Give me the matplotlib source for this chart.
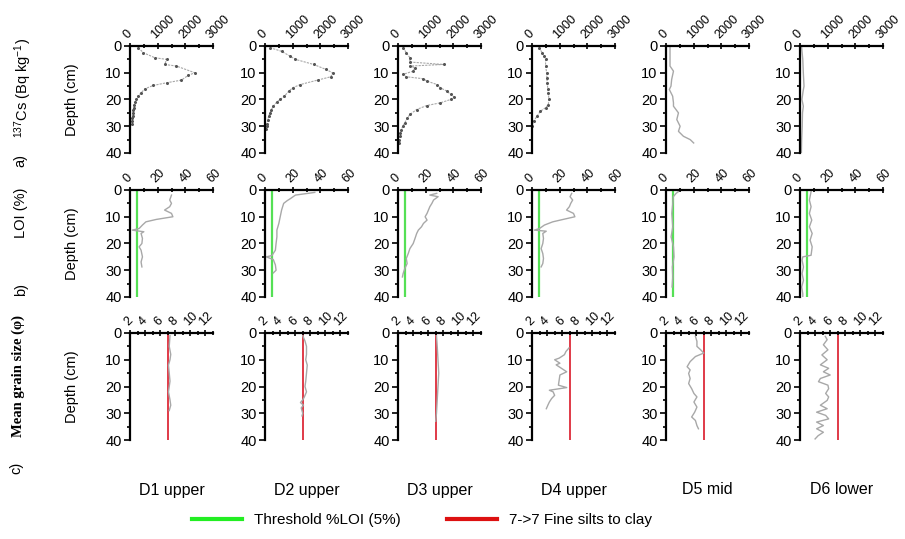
import numpy as np
import matplotlib
matplotlib.use('Agg')
import matplotlib.pyplot as plt
from matplotlib.lines import Line2D
from matplotlib.ticker import MultipleLocator

plt.rcParams['font.family'] = ['Liberation Sans', 'DejaVu Sans']
plt.rcParams['mathtext.default'] = 'regular'

cores = ['D1 upper', 'D2 upper', 'D3 upper', 'D4 upper', 'D5 mid', 'D6 lower']

# 137Cs activity (Bq/kg) against depth (cm)
cs_d1_depth = [0.6, 2.5, 4.4, 5, 6.9, 7.5, 10, 11, 12.75, 13.75, 14.75, 16, 17.5, 18.75, 20, 21, 22, 23, 24, 25, 26, 27, 28, 29]
cs_d1 = [300, 480, 900, 1320, 1260, 1680, 2340, 2100, 1860, 1320, 840, 540, 400, 300, 230, 180, 150, 130, 120, 110, 100, 90, 80, 60]
cs_d2_depth = [0.6, 2, 3.75, 5, 6.9, 8.75, 10, 11.5, 12.75, 14.4, 15.6, 17, 18.75, 20, 21, 22.5, 24, 25, 26, 27.5, 29, 30, 31]
cs_d2 = [180, 600, 900, 1100, 1760, 2200, 2440, 2380, 1900, 1280, 1000, 850, 700, 550, 420, 300, 220, 180, 140, 100, 80, 60, 50]
cs_d3_depth = [0.6, 2.5, 4.4, 6, 6.9, 7.5, 8.1, 9.4, 10.6, 11.5, 12.25, 13.1, 14.4, 15.6, 16.9, 18.1, 19, 20, 21.25, 22.25, 23.75, 25.6, 27, 28.75, 30, 31.25, 32.5, 33.75, 35, 36.25]
cs_d3 = [180, 300, 430, 430, 1650, 430, 610, 550, 180, 300, 920, 1040, 1410, 1530, 1770, 1900, 2020, 1900, 1530, 1040, 670, 430, 330, 245, 170, 120, 90, 60, 40, 20]
cs_d4_depth = [0.6, 2.5, 3.75, 5, 7.5, 10, 12, 13.75, 16, 17.5, 20, 21.9, 23.1, 24.4, 26.25, 28.1, 29.75]
cs_d4 = [245, 370, 430, 490, 490, 530, 540, 550, 570, 590, 610, 590, 490, 300, 180, 60, 0]
cs_d5_depth = [0.6, 7.5, 9.4, 12.5, 15, 16.25, 18.75, 21.25, 22.5, 25, 27.5, 30, 31.9, 33.75, 35, 36.25]
cs_d5 = [145, 145, 270, 205, 180, 120, 240, 270, 270, 450, 390, 510, 450, 630, 875, 1000]
cs_d6_depth = [0.6, 5, 10, 15, 17, 20, 22.5, 25, 30, 35, 40]
cs_d6 = [60, 100, 120, 145, 110, 70, 120, 90, 80, 60, 50]

# loss on ignition (%) against depth (cm)
loi_d1_depth = [1.9, 3.75, 5, 6.25, 7.5, 8.75, 10, 11, 11.9, 13.1, 14.4, 15, 15.3, 15.6, 16.25, 18.1, 20, 21.25, 22.5, 25, 26.9, 28.75]
loi_d1 = [30, 28.7, 30, 28.7, 25, 30, 31, 19, 11.5, 9, 6.6, 1.7, 5.5, 10, 8, 9, 8.6, 6.6, 8, 9, 8, 8.6]
loi_d2_depth = [0.9, 1.9, 3, 4, 5, 7.5, 10, 12.5, 15, 17.5, 20, 22.5, 24.5, 25, 26, 28, 30, 31]
loi_d2 = [36, 22, 19, 16, 13.5, 12, 11, 10, 8.6, 8.6, 8, 7.5, 5, 1, 6, 7.5, 8, 6]
loi_d3_depth = [1.25, 1.9, 2.5, 3.75, 5, 6.25, 7.5, 8.75, 10, 11.25, 12.5, 13.75, 15, 16.25, 18.1, 20, 21.9, 23.75, 25.6, 27.5, 29.4, 31.25, 32.5]
loi_d3 = [28, 23, 29, 25.7, 24.5, 23, 22, 21, 19.6, 21, 18.4, 17, 14.7, 13.5, 12.3, 11, 8.6, 7.4, 6, 6.6, 4.9, 3.7, 3.2]
loi_d4_depth = [1.25, 2.5, 3.75, 5, 6.25, 7.5, 8.75, 10, 11, 11.9, 13.1, 14.4, 15, 15.4, 16.25, 18.1, 20, 21.9, 23.75, 25.6, 27.5, 28.75]
loi_d4 = [28.7, 27.5, 29.4, 28, 27, 25, 30, 31, 22.5, 15, 9, 5.4, 1.7, 10.3, 7.8, 8.3, 7.8, 6.6, 7.8, 8.3, 7.8, 6.6]
loi_d5_depth = [0.6, 1.25, 2.5, 5, 8.75, 13.75, 17.5, 21.25, 25, 28.75, 32.5, 36.25]
loi_d5 = [9, 7.3, 5.3, 4.9, 4.2, 4.9, 3.7, 5.4, 5.8, 4.6, 4.9, 4.4]
loi_d6_depth = [0.6, 3.75, 6.25, 8.75, 11.25, 13.75, 16.25, 18.75, 21.25, 24.4, 25, 26.25, 28.75, 31.25, 33.75, 36.25, 38.75, 40]
loi_d6 = [8, 6.8, 8, 6.8, 8.5, 6.8, 8.8, 7.3, 8.8, 8, 2, 1.5, 2.5, 1.5, 2.5, 1.2, 2, 2]

# mean grain size (phi) against depth (cm)
gs_d1_depth = [1, 5, 8, 10, 12, 15, 18, 20, 22, 25, 27, 29]
gs_d1 = [7.3, 7.2, 7.4, 7.3, 7.1, 7.2, 7.3, 7.2, 7.1, 7.3, 7.4, 7.2]
gs_d2_depth = [1, 3, 5, 8, 10, 12, 15, 18, 20, 22, 24, 25, 26, 27, 28, 30, 31]
gs_d2 = [7.0, 7.3, 7.5, 7.5, 7.4, 7.6, 7.5, 7.4, 7.3, 7.5, 7.2, 7.0, 6.7, 7.1, 6.8, 7.0, 6.9]
gs_d3_depth = [1, 5, 10, 15, 20, 25, 30, 33]
gs_d3 = [7.1, 7.2, 7.3, 7.4, 7.3, 7.2, 7.1, 7.0]
gs_d4_depth = [5.6, 6.9, 8.1, 9.4, 10, 11.3, 11.9, 13.2, 14.5, 15.7, 17.6, 19.5, 20.4, 21.4, 22, 23.3, 24.5, 25.8, 27, 28.3]
gs_d4 = [6.9, 6.5, 6.3, 5.6, 5.0, 5.7, 5.2, 5.9, 6.6, 5.7, 5.6, 5.5, 6.6, 4.3, 4.8, 5.0, 4.6, 4.3, 4.1, 3.9]
gs_d5_depth = [1.25, 3.1, 5, 6.3, 7.5, 8.8, 10.7, 12.6, 13.8, 15.1, 17, 18.9, 20.8, 22.6, 23.9, 25.8, 27.7, 29.6, 31.4, 32.7, 34.6, 35.8]
gs_d5 = [5.9, 6.1, 6.1, 6.6, 7.0, 5.9, 5.2, 4.8, 5.2, 5.0, 5.2, 5.0, 5.4, 5.7, 6.1, 5.7, 6.1, 5.8, 5.4, 5.9, 6.1, 6.3]
gs_d6_depth = [1.25, 2.5, 4.4, 6.3, 8.2, 10, 11.9, 13.2, 14.5, 15.7, 17, 18.2, 19.5, 20.8, 22.6, 23.9, 25.2, 27, 28.3, 29.6, 30.8, 32.1, 33.3, 34.6, 35.8, 37.1, 38.4, 39.6]
gs_d6 = [5.35, 5.6, 5.1, 5.7, 4.9, 5.6, 4.7, 5.8, 5.1, 6.0, 4.7, 4.45, 5.7, 5.8, 5.4, 5.8, 5.6, 4.7, 5.6, 4.2, 5.4, 5.8, 4.2, 5.1, 4.2, 5.1, 4.4, 4.0]

loi_threshold = 5
fine_silt_phi = 7

cs_data = [(cs_d1_depth, cs_d1), (cs_d2_depth, cs_d2), (cs_d3_depth, cs_d3),
           (cs_d4_depth, cs_d4), (cs_d5_depth, cs_d5), (cs_d6_depth, cs_d6)]
loi_data = [(loi_d1_depth, loi_d1), (loi_d2_depth, loi_d2), (loi_d3_depth, loi_d3),
            (loi_d4_depth, loi_d4), (loi_d5_depth, loi_d5), (loi_d6_depth, loi_d6)]
gs_data = [(gs_d1_depth, gs_d1), (gs_d2_depth, gs_d2), (gs_d3_depth, gs_d3),
           (gs_d4_depth, gs_d4), (gs_d5_depth, gs_d5), (gs_d6_depth, gs_d6)]

W, H = 905, 539
fig = plt.figure(figsize=(W / 100, H / 100), dpi=100)

lefts = [130, 265, 398, 532, 666, 800]
tops = [46, 190, 333]
pw, ph = 83, 107

green = '#55e055'
red = '#e03a48'
grey = '#a8a8a8'


def make_ax(left, top, xlim, xmajor, xminor):
    ax = fig.add_axes([left / W, 1 - (top + ph) / H, pw / W, ph / H])
    ax.set_xlim(*xlim)
    ax.set_ylim(40, 0)
    ax.xaxis.tick_top()
    ax.xaxis.set_major_locator(MultipleLocator(xmajor))
    ax.xaxis.set_minor_locator(MultipleLocator(xminor))
    ax.yaxis.set_major_locator(MultipleLocator(10))
    ax.yaxis.set_minor_locator(MultipleLocator(5))
    for s in ['right', 'bottom']:
        ax.spines[s].set_visible(False)
    for s in ['left', 'top']:
        ax.spines[s].set_linewidth(1.6)
    ax.tick_params(axis='x', which='both', direction='inout', width=1.2, labelsize=9, pad=1)
    ax.tick_params(axis='x', which='major', length=5)
    ax.tick_params(axis='x', which='minor', length=3)
    ax.tick_params(axis='y', which='both', direction='out', width=1.2, labelsize=10.5, pad=2)
    ax.tick_params(axis='y', which='major', length=4)
    ax.tick_params(axis='y', which='minor', length=2.5)
    plt.setp(ax.get_xticklabels(), rotation=45, ha='left', va='bottom', rotation_mode='anchor')
    ax.patch.set_alpha(0)
    return ax


for i in range(6):
    # row a: 137Cs
    ax = make_ax(lefts[i], tops[0], (0, 3000), 1000, 500)
    d, v = cs_data[i]
    if i < 4:
        ax.plot(v, d, color=grey, lw=0.8, ls=(0, (2, 1)), marker='o', ms=1.2,
                mfc='#555555', mec='#555555')
    else:
        ax.plot(v, d, color=grey, lw=1.0)

    # row b: LOI
    ax = make_ax(lefts[i], tops[1], (0, 60), 20, 10)
    d, v = loi_data[i]
    ax.axvline(loi_threshold, color=green, lw=1.6, zorder=1)
    ax.plot(v, d, color=grey, lw=1.0, zorder=2)

    # row c: grain size
    ax = make_ax(lefts[i], tops[2], (2, 13), 2, 1)
    d, v = gs_data[i]
    ax.axvline(fine_silt_phi, color=red, lw=1.4, zorder=1)
    ax.plot(v, d, color=grey, lw=1.0, zorder=2)

    fig.text((lefts[i] + pw / 2) / W, 1 - 490 / H, cores[i], ha='center', va='center', fontsize=11.5)

for top in tops:
    fig.text(72 / W, 1 - (top + ph / 2) / H, 'Depth (cm)', rotation=90, ha='center', va='center', fontsize=10.5)

fig.text(23 / W, 1 - 88 / H, r'$^{137}$Cs (Bq kg$^{-1}$)', rotation=90, ha='center', va='center', fontsize=10.5)
fig.text(20 / W, 1 - 160 / H, 'a)', rotation=90, ha='center', va='center', fontsize=10.5)
fig.text(21 / W, 1 - 213 / H, 'LOI (%)', rotation=90, ha='center', va='center', fontsize=10.5)
fig.text(21 / W, 1 - 290 / H, 'b)', rotation=90, ha='center', va='center', fontsize=10.5)
fig.text(18 / W, 1 - 376 / H, 'Mean grain size (φ)', rotation=90, ha='center', va='center',
         fontsize=10.5, family=['Liberation Serif', 'DejaVu Serif'], fontweight='bold')
fig.text(16 / W, 1 - 468 / H, 'c)', rotation=90, ha='center', va='center', fontsize=10.5)

handles = [Line2D([], [], color='#22ee22', lw=3), Line2D([], [], color='#dd1111', lw=3)]
fig.legend(handles, ['Threshold %LOI (5%)', '7->7 Fine silts to clay'], loc='center',
           bbox_to_anchor=(422 / W, 1 - 520 / H), ncol=2, frameon=False, fontsize=11,
           handlelength=3.3, handletextpad=0.8, columnspacing=3.0)

fig.savefig('out.png', dpi=100)
